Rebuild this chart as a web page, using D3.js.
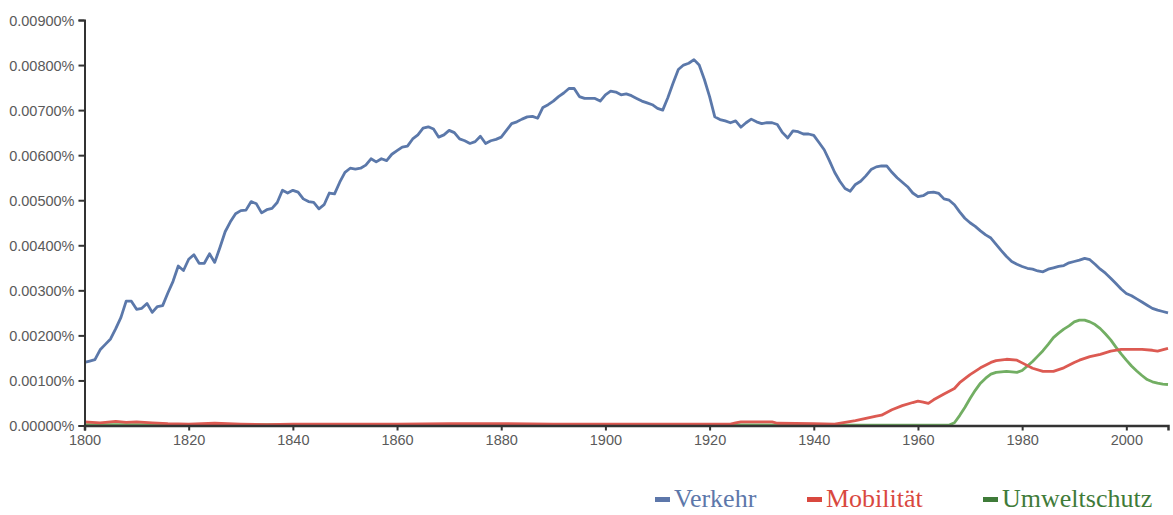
<!DOCTYPE html>
<html>
<head>
<meta charset="utf-8">
<script src="https://cdn.jsdelivr.net/npm/d3@7"></script>
<style>
  html, body { margin: 0; padding: 0; background: #fff; }
  svg { display: block; }
  .tick text { font-family: "Liberation Sans", Arial, sans-serif; fill: #5a5a5a; }
  .legend text { font-family: "Liberation Serif", "Times New Roman", serif; }
</style>
</head>
<body>
<div id="chart"></div>
<script>
// values in units of 0.001 %
const verkehrStart = 1800;
const verkehrValues = [
  1.40, 1.43, 1.46, 1.68, 1.80, 1.92, 2.15, 2.40, 2.76, 2.76,
  2.58, 2.60, 2.71, 2.51, 2.64, 2.66, 2.94, 3.20, 3.54, 3.44,
  3.69, 3.79, 3.60, 3.60, 3.81, 3.62, 3.95, 4.30, 4.52, 4.70,
  4.77, 4.78, 4.97, 4.92, 4.72, 4.79, 4.82, 4.95, 5.22, 5.16,
  5.22, 5.18, 5.03, 4.97, 4.95, 4.81, 4.90, 5.16, 5.14, 5.40,
  5.62, 5.71, 5.69, 5.71, 5.78, 5.92, 5.85, 5.92, 5.88, 6.02,
  6.10, 6.18, 6.20, 6.36, 6.45, 6.60, 6.63, 6.58, 6.40, 6.45,
  6.55, 6.50, 6.36, 6.32, 6.26, 6.30, 6.42, 6.26, 6.32, 6.35,
  6.40, 6.55, 6.70, 6.74, 6.80, 6.85, 6.86, 6.82, 7.06, 7.12,
  7.20, 7.30, 7.38, 7.48, 7.48, 7.30, 7.26, 7.26, 7.26, 7.20,
  7.34, 7.42, 7.40, 7.34, 7.36, 7.32, 7.26, 7.20, 7.16, 7.12,
  7.04, 7.00, 7.28, 7.60, 7.90, 8.00, 8.04, 8.12, 8.00, 7.68,
  7.30, 6.85, 6.79, 6.76, 6.72, 6.76, 6.62, 6.72, 6.80, 6.74,
  6.70, 6.72, 6.72, 6.68, 6.50, 6.38, 6.54, 6.52, 6.47, 6.47,
  6.44, 6.28, 6.12, 5.88, 5.62, 5.42, 5.26, 5.20, 5.35, 5.42,
  5.54, 5.68, 5.74, 5.76, 5.76, 5.62, 5.50, 5.40, 5.30, 5.16,
  5.08, 5.10, 5.17, 5.18, 5.15, 5.03, 5.00, 4.90, 4.74, 4.60,
  4.50, 4.42, 4.32, 4.23, 4.16, 4.02, 3.88, 3.75, 3.64, 3.58,
  3.53, 3.49, 3.47, 3.43, 3.41, 3.47, 3.50, 3.53, 3.55, 3.61,
  3.64, 3.67, 3.71, 3.68, 3.58, 3.47, 3.38, 3.27, 3.15, 3.03,
  2.93, 2.88, 2.81, 2.74, 2.67, 2.60, 2.56, 2.53, 2.50
];

const mobilitaetYears = [
  1800, 1803, 1806, 1808, 1810, 1813, 1816, 1820, 1825, 1830, 1835, 1840,
  1850, 1860, 1870, 1880, 1890, 1900, 1910, 1920, 1924, 1925, 1926, 1932,
  1933, 1940, 1944, 1946, 1948, 1950, 1952, 1953, 1955, 1957, 1959, 1960,
  1961, 1962, 1963, 1965, 1967, 1968, 1970, 1972, 1974, 1975, 1977, 1979,
  1980, 1982, 1984, 1986, 1988, 1990, 1991, 1993, 1995, 1997, 1999, 2001,
  2003, 2005, 2006, 2008
];
const mobilitaetValues = [
  0.08, 0.06, 0.09, 0.07, 0.08, 0.06, 0.04, 0.03, 0.05, 0.03, 0.02, 0.03,
  0.03, 0.03, 0.04, 0.04, 0.03, 0.03, 0.03, 0.03, 0.03, 0.06, 0.08, 0.08,
  0.05, 0.04, 0.03, 0.07, 0.11, 0.16, 0.21, 0.23, 0.35, 0.44, 0.51, 0.54,
  0.52, 0.49, 0.57, 0.70, 0.82, 0.95, 1.13, 1.28, 1.40, 1.44, 1.47, 1.45,
  1.39, 1.27, 1.20, 1.20, 1.28, 1.40, 1.45, 1.53, 1.58, 1.65, 1.69, 1.69,
  1.69, 1.67, 1.65, 1.71
];

const umweltYears = [
  1800, 1850, 1900, 1950, 1966, 1967, 1968, 1969, 1970, 1971, 1972, 1973,
  1974, 1975, 1977, 1979, 1980, 1981, 1982, 1983, 1984, 1985, 1986, 1987,
  1988, 1989, 1990, 1991, 1992, 1993, 1994, 1995, 1996, 1997, 1998, 1999,
  2000, 2001, 2002, 2003, 2004, 2005, 2006, 2007, 2008
];
const umweltValues = [
  0.02, 0.02, 0.02, 0.01, 0.01, 0.06, 0.22, 0.40, 0.60, 0.78, 0.94, 1.05,
  1.14, 1.18, 1.20, 1.18, 1.22, 1.32, 1.42, 1.54, 1.66, 1.80, 1.95, 2.05,
  2.14, 2.21, 2.30, 2.34, 2.34, 2.30, 2.24, 2.15, 2.03, 1.90, 1.74, 1.59,
  1.45, 1.32, 1.21, 1.11, 1.02, 0.97, 0.94, 0.92, 0.91
];

const xTicks = [1800, 1820, 1840, 1860, 1880, 1900, 1920, 1940, 1960, 1980, 2000];
const yTicks = [0, 1, 2, 3, 4, 5, 6, 7, 8, 9];
const yTickLabels = ["0.00000%", "0.00100%", "0.00200%", "0.00300%", "0.00400%",
  "0.00500%", "0.00600%", "0.00700%", "0.00800%", "0.00900%"];

const seriesNames = ["Verkehr", "Mobilität", "Umweltschutz"];
const lineColors = ["#5b78aa", "#dc5a52", "#72ae63"];
const legendColors = ["#5d77aa", "#d9483f", "#3f7b39"];

const width = 1173, height = 515;

const svg = d3.select("#chart").append("svg")
  .attr("width", width)
  .attr("height", height);

const x = d3.scaleLinear().domain([1800, 2008]).range([84.5, 1168]);
const y = d3.scaleLinear().domain([0, 9]).range([425.5, 20]);

const series = [
  verkehrValues.map((v, i) => [verkehrStart + i, v]),
  mobilitaetYears.map((yr, i) => [yr, mobilitaetValues[i]]),
  umweltYears.map((yr, i) => [yr, umweltValues[i]])
];

const line = d3.line()
  .x(d => x(d[0]))
  .y(d => y(d[1]));

// green first so blue/red sit on top
[2, 1, 0].forEach(k => {
  svg.append("path")
    .datum(series[k])
    .attr("fill", "none")
    .attr("stroke", lineColors[k])
    .attr("stroke-width", 2.8)
    .attr("stroke-linejoin", "round")
    .attr("d", line);
});

const yAxis = svg.append("g")
  .attr("transform", `translate(${x.range()[0]},0)`)
  .call(d3.axisLeft(y).tickValues(yTicks).tickFormat((d, i) => yTickLabels[i]).tickSize(6).tickPadding(4));
yAxis.select(".domain").attr("stroke", "#333").attr("stroke-width", 2);
yAxis.selectAll(".tick line").attr("stroke", "#333").attr("stroke-width", 2);
yAxis.selectAll(".tick text").attr("font-size", 14.5).attr("dy", "0.36em");

const xAxis = svg.append("g")
  .attr("transform", `translate(0,${y(0)})`)
  .call(d3.axisBottom(x).tickValues(xTicks).tickFormat(d3.format("d")).tickSize(5).tickPadding(4));
xAxis.select(".domain").attr("stroke", "#333").attr("stroke-width", 2.5);
xAxis.selectAll(".tick line").attr("stroke", "#333").attr("stroke-width", 2);
xAxis.selectAll(".tick text").attr("font-size", 14.5);

// legend
const legend = svg.append("g").attr("class", "legend");
const legendX = [655, 807, 983];
seriesNames.forEach((name, i) => {
  const g = legend.append("g").attr("transform", `translate(${legendX[i]},507)`);
  g.append("rect")
    .attr("x", 0).attr("y", -10)
    .attr("width", 15).attr("height", 5)
    .attr("fill", legendColors[i]);
  g.append("text")
    .attr("x", 19)
    .attr("font-size", 26)
    .attr("fill", legendColors[i])
    .text(name);
});
</script>
</body>
</html>
